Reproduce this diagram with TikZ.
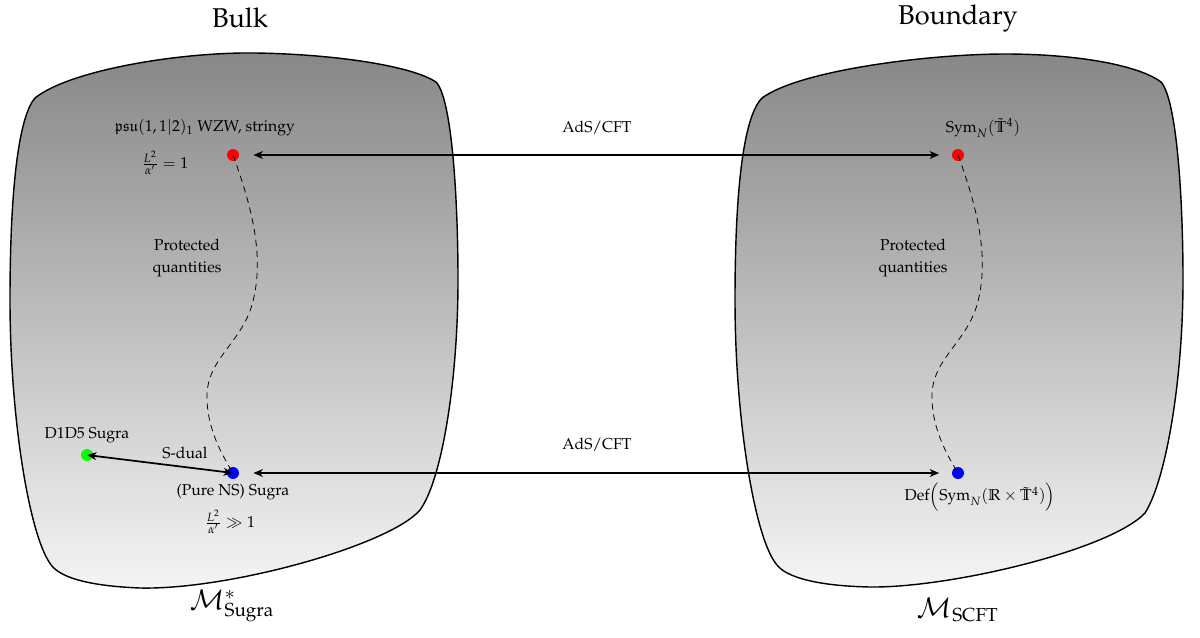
\documentclass[tikz,border=0pt]{standalone}
\usepackage[T1]{fontenc}
\usepackage{amsmath,amssymb}
\usepackage{mathpazo}
\usetikzlibrary{arrows.meta}
\begin{document}
\begin{tikzpicture}[x=0.636pt,y=-0.636pt,
  blob/.style={draw=black,line width=0.9pt,top color=black!47,bottom color=black!4},
  dot/.style={circle,inner sep=0pt,minimum size=7.6pt},
  lbl/.style={inner sep=1pt,font=\normalsize},
  ttl/.style={inner sep=0pt,font=\LARGE},
  duality/.style={{Stealth[length=6pt,width=5pt,inset=1.8pt]}-{Stealth[length=6pt,width=5pt,inset=1.8pt]},line width=1.1pt},
  flow/.style={dashed,line width=0.5pt,dash pattern=on 4pt off 3pt}]
\useasboundingbox (0,0) rectangle (1200,637);
% blobs
\path[blob] (35,98) .. controls (70,70) and (180,52) .. (255,53)
  .. controls (330,54) and (410,65) .. (436,82)
  .. controls (452,98) and (458,200) .. (458,280)
  .. controls (458,380) and (442,480) .. (420,510)
  .. controls (390,545) and (230,590) .. (140,588)
  .. controls (90,586) and (62,578) .. (52,566)
  .. controls (30,540) and (10,420) .. (10,300)
  .. controls (10,180) and (20,115) .. (35,98) -- cycle;
\path[blob] (762,98) .. controls (800,70) and (930,54) .. (1005,54)
  .. controls (1080,54) and (1140,66) .. (1161,82)
  .. controls (1177,100) and (1183,200) .. (1183,280)
  .. controls (1183,380) and (1166,480) .. (1145,513)
  .. controls (1110,550) and (950,588) .. (870,587)
  .. controls (820,586) and (787,578) .. (777,565)
  .. controls (755,540) and (735,420) .. (735,300)
  .. controls (735,180) and (745,115) .. (762,98) -- cycle;
% titles
\node[ttl] (bulk) at (240,18) {Bulk};
\node[ttl] (bdy) at (958,18) {Boundary};
\node[ttl] (msugra) at (232,606) {$\mathcal{M}^{*}_{\text{Sugra}}$};
\node[ttl] (mscft) at (958,610) {$\mathcal{M}_{\text{SCFT}}$};
% dots
\node[dot,fill=red] (bs) at (233,155) {};
\node[dot,fill=blue] (bg) at (233,473) {};
\node[dot,fill=green] (dd) at (87,455) {};
\node[dot,fill=red] (cs) at (958,155) {};
\node[dot,fill=blue] (cg) at (958,473) {};
% labels
\node[lbl] (lpsu) at (205,128) {$\mathfrak{psu}(1,1|2)_1$ WZW, stringy};
\node[lbl] (lone) at (165,163) {$\frac{L^2}{\alpha'}=1$};
\node[lbl,align=center] (lprot) at (187,258) {Protected\\[2pt]quantities};
\node[lbl] (ld1d5) at (87,435) {D1D5 Sugra};
\node[lbl] (lsd) at (185,453) {S-dual};
\node[lbl] (lns) at (233,492) {(Pure NS) Sugra};
\node[lbl] (lgg) at (230,522) {$\frac{L^2}{\alpha'}\gg 1$};
\node[lbl] (ads1) at (597,128) {AdS/CFT};
\node[lbl] (ads2) at (597,445) {AdS/CFT};
\node[lbl] (lsym) at (983,128) {$\mathrm{Sym}_N(\tilde{\mathbb{T}}^4)$};
\node[lbl,align=center] (rprot) at (913,258) {Protected\\[2pt]quantities};
\node[lbl] (ldef) at (980,497) {$\mathrm{Def}\Big(\mathrm{Sym}_N(\mathbb{R}\times\tilde{\mathbb{T}}^4)\Big)$};
% connectors
\draw[duality,shorten <=9pt,shorten >=8pt] (bs) -- (cs);
\draw[duality,shorten <=9pt,shorten >=8pt] (bg) -- (cg);
\draw[duality] (bg.center) -- (dd.center);
\draw[flow] (bs.center) .. controls (255,215) and (264,262) .. (252,305)
  .. controls (240,345) and (205,360) .. (207,400)
  .. controls (208,430) and (222,455) .. (bg.center);
\draw[flow] (cs.center) .. controls (980,215) and (989,262) .. (977,305)
  .. controls (965,345) and (930,360) .. (932,400)
  .. controls (933,430) and (947,455) .. (cg.center);
\end{tikzpicture}
\end{document}
